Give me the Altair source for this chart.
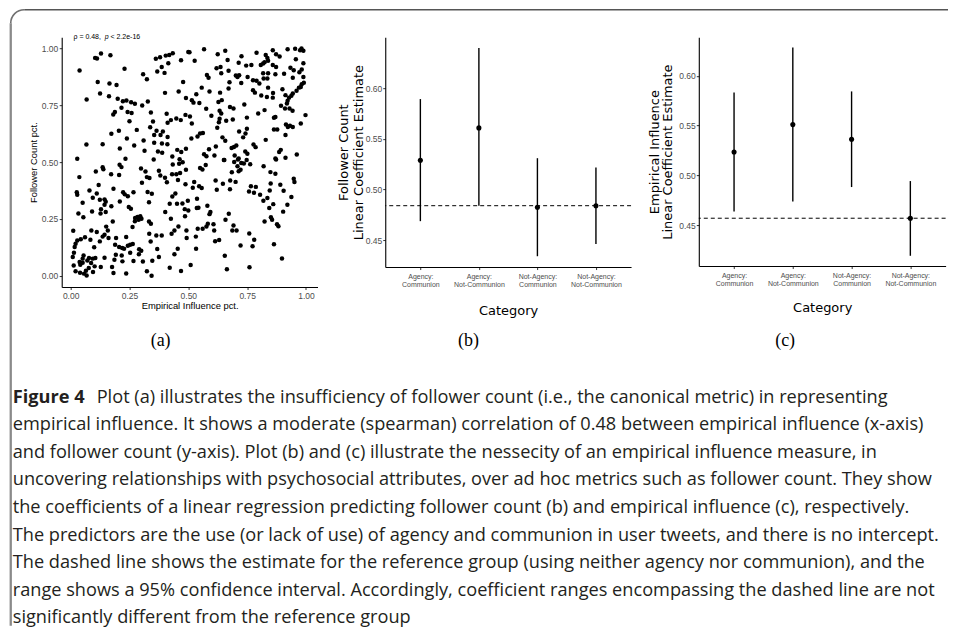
import altair as alt
import pandas as pd

# ---------------- data ----------------
# panel (a): (empirical influence pct., follower count pct.)
scatter_points = [
    (0.028,0.515),(0.038,0.903),(0.104,0.959),(0.112,0.956),(0.129,0.978),(0.169,0.971),(0.229,0.911),
    (0.115,0.853),(0.165,0.846),(0.195,0.840),(0.125,0.802),(0.068,0.776),(0.163,0.790),(0.200,0.779),
    (0.222,0.768),(0.237,0.771),(0.257,0.764),(0.273,0.757),(0.304,0.749),(0.328,0.767),(0.308,0.887),
    (0.324,0.865),(0.362,0.955),(0.380,0.962),(0.404,0.969),(0.419,0.972),(0.434,0.979),(0.415,0.935),
    (0.387,0.919),(0.368,0.899),(0.399,0.893),(0.469,0.949),(0.500,0.985),(0.478,0.853),(0.401,0.805),
    (0.459,0.811),(0.490,0.782),(0.216,0.739),(0.188,0.721),(0.181,0.710),(0.242,0.721),(0.259,0.716),
    (0.341,0.719),(0.408,0.713),(0.250,0.680),(0.350,0.679),(0.426,0.685),(0.412,0.673),(0.449,0.692),
    (0.468,0.685),(0.488,0.708),(0.281,0.642),(0.338,0.654),(0.205,0.638),(0.173,0.625),(0.365,0.638),
    (0.392,0.635),(0.382,0.619),(0.355,0.619),(0.412,0.611),(0.239,0.604),(0.310,0.595),(0.355,0.585),
    (0.388,0.582),(0.411,0.579),(0.067,0.578),(0.136,0.579),(0.270,0.573),(0.209,0.560),(0.314,0.550),
    (0.371,0.547),(0.389,0.541),(0.453,0.554),(0.470,0.545),(0.490,0.559),(0.233,0.515),(0.353,0.512),
    (0.432,0.525),(0.463,0.513),
    (0.505,0.984),(0.527,0.946),(0.567,0.997),(0.625,0.975),(0.657,0.990),(0.667,0.950),(0.726,0.966),
    (0.714,0.938),(0.746,0.925),(0.768,0.928),(0.790,0.982),(0.829,0.972),(0.836,0.959),(0.839,0.946),
    (0.824,0.940),(0.808,0.928),(0.818,0.934),(0.859,0.993),(0.873,0.975),(0.888,0.965),(0.859,0.928),
    (0.873,0.919),(0.922,0.997),(0.954,0.999),(0.981,1.000),(0.989,0.990),(0.975,0.993),(0.957,0.953),
    (0.989,0.935),(0.934,0.916),(0.948,0.905),(0.982,0.908),(0.972,0.896),(0.637,0.919),(0.620,0.913),
    (0.640,0.891),(0.671,0.902),(0.579,0.884),(0.586,0.872),(0.702,0.881),(0.716,0.883),(0.709,0.875),
    (0.752,0.875),(0.775,0.861),(0.675,0.852),(0.671,0.824),(0.725,0.848),(0.790,0.858),(0.802,0.846),
    (0.818,0.891),(0.839,0.891),(0.870,0.887),(0.820,0.868),(0.836,0.868),(0.907,0.889),(0.944,0.872),
    (0.989,0.875),(0.991,0.850),(0.982,0.843),(0.978,0.831),(0.970,0.828),(0.960,0.814),(0.944,0.802),
    (0.938,0.792),(0.928,0.784),(0.922,0.770),(0.919,0.758),(0.839,0.828),(0.900,0.821),(0.913,0.795),
    (0.860,0.804),(0.775,0.817),(0.783,0.806),(0.810,0.793),(0.834,0.787),(0.859,0.784),(0.557,0.828),
    (0.534,0.799),(0.590,0.811),(0.635,0.806),(0.515,0.773),(0.522,0.762),(0.547,0.760),(0.628,0.765),
    (0.642,0.773),(0.738,0.754),(0.576,0.735),(0.598,0.704),(0.633,0.726),(0.640,0.714),(0.677,0.743),
    (0.692,0.736),(0.507,0.701),(0.894,0.748),(0.911,0.736),(0.930,0.736),(0.943,0.726),(0.870,0.699),
    (0.864,0.695),(0.824,0.729),(0.797,0.714),(0.749,0.696),(0.633,0.691),(0.630,0.676),(0.661,0.682),
    (0.689,0.688),(0.515,0.670),(0.623,0.651),(0.915,0.666),(0.932,0.660),(0.944,0.655),(0.923,0.655),
    (0.978,0.670),(0.998,0.707),(0.864,0.644),(0.878,0.644),(0.716,0.635),(0.749,0.647),(0.743,0.626),
    (0.550,0.626),(0.562,0.628),(0.513,0.604),(0.539,0.613),(0.645,0.609),(0.733,0.609),(0.913,0.619),
    (0.829,0.598),(0.657,0.594),(0.777,0.578),(0.786,0.566),(0.588,0.557),(0.617,0.569),(0.704,0.573),
    (0.694,0.567),(0.684,0.562),(0.742,0.547),(0.751,0.537),(0.567,0.535),(0.577,0.526),(0.611,0.529),
    (0.697,0.529),(0.714,0.516),(0.893,0.554),(0.886,0.545),(0.961,0.534),(0.870,0.516),(0.913,0.519),
    (0.653,0.509),(0.748,0.509),
    (0.107,0.459),(0.136,0.477),(0.139,0.469),(0.172,0.447),(0.208,0.488),(0.216,0.478),(0.206,0.443),
    (0.299,0.472),(0.318,0.459),(0.324,0.434),(0.335,0.430),(0.303,0.409),(0.375,0.462),(0.381,0.441),
    (0.401,0.431),(0.409,0.411),(0.431,0.447),(0.449,0.447),(0.465,0.452),(0.434,0.490),(0.461,0.493),
    (0.476,0.499),(0.490,0.466),(0.456,0.421),(0.037,0.434),(0.119,0.399),(0.182,0.383),(0.026,0.367),
    (0.028,0.356),(0.080,0.375),(0.111,0.362),(0.094,0.343),(0.051,0.321),(0.124,0.334),(0.144,0.336),
    (0.149,0.326),(0.144,0.312),(0.173,0.306),(0.223,0.367),(0.230,0.358),(0.209,0.327),(0.243,0.350),
    (0.267,0.367),(0.327,0.368),(0.345,0.361),(0.333,0.323),(0.247,0.302),(0.256,0.295),(0.445,0.362),
    (0.432,0.349),(0.421,0.317),(0.452,0.317),(0.475,0.318),(0.498,0.330),(0.402,0.280),(0.485,0.293),
    (0.033,0.274),(0.054,0.257),(0.091,0.283),(0.129,0.293),(0.127,0.274),(0.149,0.280),(0.179,0.239),
    (0.274,0.254),(0.284,0.258),(0.296,0.262),(0.301,0.251),(0.273,0.240),(0.289,0.246),(0.333,0.239),
    (0.341,0.229),(0.263,0.214),(0.426,0.251),(0.458,0.217),(0.441,0.199),(0.492,0.199),(0.011,0.198),
    (0.088,0.199),(0.111,0.192),(0.151,0.216),(0.158,0.199),(0.144,0.180),(0.136,0.172),(0.193,0.166),
    (0.236,0.170),(0.334,0.185),(0.364,0.177),(0.387,0.177),(0.429,0.185),(0.493,0.166),(0.028,0.155),
    (0.043,0.160),(0.061,0.169),(0.021,0.141),(0.017,0.126),(0.084,0.158),(0.124,0.151),(0.161,0.166),
    (0.189,0.136),(0.206,0.126),(0.219,0.122),(0.243,0.132),(0.253,0.136),(0.264,0.139),(0.227,0.119),
    (0.291,0.116),(0.300,0.110),(0.340,0.150),(0.368,0.117),(0.100,0.125),(0.455,0.119),(0.014,0.101),
    (0.009,0.082),(0.055,0.089),(0.051,0.075),(0.038,0.060),(0.051,0.057),(0.071,0.067),(0.078,0.078),
    (0.094,0.075),(0.105,0.078),(0.087,0.056),(0.144,0.079),(0.192,0.092),(0.217,0.089),(0.253,0.101),
    (0.290,0.094),(0.375,0.082),(0.441,0.094),(0.013,0.045),(0.041,0.048),(0.128,0.038),(0.186,0.070),
    (0.220,0.063),(0.267,0.065),(0.307,0.062),(0.347,0.066),(0.021,0.019),(0.040,0.013),(0.057,0.009),
    (0.068,0.001),(0.065,0.022),(0.077,0.034),(0.102,0.041),(0.095,0.016),(0.176,0.038),(0.182,0.012),
    (0.236,0.010),(0.324,0.019),(0.344,0.000),(0.421,0.035),(0.469,0.021),
    (0.574,0.487),(0.550,0.474),(0.560,0.468),(0.651,0.509),(0.695,0.501),(0.711,0.512),(0.725,0.496),
    (0.736,0.494),(0.709,0.482),(0.763,0.491),(0.722,0.466),(0.714,0.460),(0.685,0.455),(0.820,0.482),
    (0.873,0.512),(0.849,0.456),(0.870,0.449),(0.948,0.427),(0.951,0.412),(0.488,0.403),(0.525,0.412),
    (0.519,0.387),(0.546,0.394),(0.557,0.386),(0.616,0.419),(0.621,0.378),(0.647,0.405),(0.678,0.419),
    (0.701,0.413),(0.677,0.381),(0.766,0.394),(0.787,0.391),(0.758,0.371),(0.779,0.365),(0.805,0.356),
    (0.850,0.406),(0.846,0.375),(0.891,0.400),(0.905,0.374),(0.836,0.342),(0.819,0.330),(0.861,0.315),
    (0.844,0.298),(0.938,0.346),(0.921,0.312),(0.903,0.282),(0.537,0.339),(0.536,0.298),(0.543,0.299),
    (0.500,0.287),(0.581,0.308),(0.594,0.280),(0.590,0.271),(0.672,0.273),(0.658,0.246),(0.486,0.262),
    (0.583,0.229),(0.577,0.217),(0.561,0.207),(0.540,0.207),(0.607,0.226),(0.610,0.199),(0.692,0.221),
    (0.687,0.199),(0.705,0.199),(0.851,0.257),(0.856,0.246),(0.824,0.239),(0.877,0.226),(0.883,0.218),
    (0.532,0.172),(0.614,0.152),(0.631,0.157),(0.759,0.186),(0.780,0.158),(0.722,0.133),(0.773,0.130),
    (0.864,0.138),(0.533,0.119),(0.655,0.088),(0.898,0.076),(0.510,0.047),(0.664,0.028),(0.760,0.037),
]
scatter_ticks = [0.0, 0.25, 0.5, 0.75, 1.0]
rho_text = ["\u03c1 = 0.48,", "p", "< 2.2e-16"]

# panels (b) and (c): linear-regression coefficients with 95% CI
categories = ["Agency: Communion", "Agency: Not-Communion",
              "Not-Agency: Communion", "Not-Agency: Not-Communion"]
fc_estimate = [0.529, 0.561, 0.4825, 0.484]
fc_lower = [0.4687, 0.484, 0.434, 0.446]
fc_upper = [0.5895, 0.640, 0.531, 0.5217]
fc_reference = 0.484
ei_estimate = [0.5235, 0.551, 0.5363, 0.457]
ei_lower = [0.4637, 0.4737, 0.4883, 0.4193]
ei_upper = [0.5833, 0.6283, 0.5843, 0.4943]
ei_reference = 0.457
coef_ticks = [0.45, 0.50, 0.55, 0.60]

panel_labels = ["(a)", "(b)", "(c)"]
caption_bold = "Figure 4"
caption_first = ("Plot (a) illustrates the insufficiency of follower count (i.e., the canonical metric) "
                 "in representing")
caption_rest = [
    "empirical influence. It shows a moderate (spearman) correlation of 0.48 between empirical influence (x-axis)",
    "and follower count (y-axis). Plot (b) and (c) illustrate the nessecity of an empirical influence measure, in",
    "uncovering relationships with psychosocial attributes, over ad hoc metrics such as follower count. They show",
    "the coefficients of a linear regression predicting follower count (b) and empirical influence (c), respectively.",
    "The predictors are the use (or lack of use) of agency and communion in user tweets, and there is no intercept.",
    "The dashed line shows the estimate for the reference group (using neither agency nor communion), and the",
    "range shows a 95% confidence interval. Accordingly, coefficient ranges encompassing the dashed line are not",
    "significantly different from the reference group",
]

# ---------------- styles ----------------
AX = dict(domainColor="black", domainWidth=1.1, tickColor="#333333", tickWidth=1,
          tickSize=2.5, labelColor="#4d4d4d", labelFont="Liberation Sans", grid=False,
          titleColor="black", titleFontWeight="normal")
CAP_FONT = "Open Sans"
CAP_SIZE = 18.2
CAP_COLOR = "#231f20"
one = pd.DataFrame({"k": [0]})

# ---------------- panel (a) ----------------
sdf = pd.DataFrame(scatter_points, columns=["influence", "followers"])
xs = alt.Scale(domain=[-0.038, 1.049], nice=False, zero=False)
ys = alt.Scale(domain=[-0.05, 1.05], nice=False, zero=False)
xa = alt.X("influence:Q", scale=xs,
           axis=alt.Axis(values=scatter_ticks, format=".2f", title="Empirical Influence pct.",
                         labelFontSize=8.5, labelPadding=1.5, titleFont="Liberation Sans",
                         titleFontSize=9.4, titlePadding=2, **AX))
ya = alt.Y("followers:Q", scale=ys,
           axis=alt.Axis(values=scatter_ticks, format=".2f", title="Follower Count pct.",
                         labelFontSize=8.5, labelPadding=1.5, titleFont="Liberation Sans",
                         titleFontSize=9.4, titlePadding=3, **AX))
scatter = alt.Chart(sdf).mark_circle(size=20, color="black", opacity=1).encode(x=xa, y=ya)

def rho_piece(txt, dx, italic=False):
    return alt.Chart(one).mark_text(text=txt, align="left", baseline="middle", dx=dx,
                                    font="Liberation Sans", fontSize=7, color="black",
                                    fontStyle="italic" if italic else "normal").encode(
        x=alt.datum(0.012), y=alt.datum(1.05))

rho = [rho_piece(rho_text[0], 0), rho_piece(rho_text[1], 31.3, True), rho_piece(rho_text[2], 37)]

# sub-figure labels and caption (positions relative to panel (a)'s plot area)
labels = [alt.Chart(one).mark_text(text=t, align="center", baseline="middle",
                                   font="Liberation Serif", fontSize=18, color="black").encode(
    x=alt.value(px), y=alt.value(303.7)) for t, px in zip(panel_labels, [99, 407, 724])]

cap_bold = alt.Chart(one).mark_text(text=caption_bold, align="left", baseline="middle",
                                    font=CAP_FONT, fontSize=CAP_SIZE, fontWeight="bold",
                                    color=CAP_COLOR).encode(x=alt.value(-49), y=alt.value(360.7))
cap_first = alt.Chart(one).mark_text(text=caption_first, align="left", baseline="middle",
                                     font=CAP_FONT, fontSize=CAP_SIZE,
                                     color=CAP_COLOR).encode(x=alt.value(35), y=alt.value(360.7))
cap_rest = alt.Chart(one).mark_text(text=caption_rest, align="left", baseline="top",
                                    lineHeight=27.6, font=CAP_FONT, fontSize=CAP_SIZE,
                                    color=CAP_COLOR).encode(x=alt.value(-49), y=alt.value(379.4))

# frame of the figure box
left_line = alt.Chart(one).mark_rule(color="#8a8a8a", strokeWidth=2.3).encode(
    x=alt.value(-51), y=alt.value(-14.05), y2=alt.value(589))
top_line = alt.Chart(one).mark_rule(color="#555555", strokeWidth=1.6).encode(
    x=alt.value(-37.5), x2=alt.value(887), y=alt.value(-27.55))
corner = alt.Chart(one).mark_arc(theta=4.7124, theta2=6.2832, radius=14.3, radius2=12.7,
                                 color="#707070").encode(x=alt.value(-37.5), y=alt.value(-14.05))

panel_a = alt.layer(scatter, *rho, *labels, cap_bold, cap_first, cap_rest,
                    left_line, top_line, corner).properties(width=256, height=250)

# ---------------- panels (b), (c) ----------------
def coef_panel(est, lo, hi, ref, ytitle, ydomain, w, h, ytpad, ylh, xtpad):
    df = pd.DataFrame({"category": categories, "estimate": est, "lower": lo, "upper": hi})
    xaxis = alt.Axis(title="Category", labelExpr="split(datum.value, ' ')", labelAngle=0,
                     labelFontSize=7, labelLineHeight=8.6, labelPadding=2.8,
                     titleFont="DejaVu Sans", titleFontSize=13, titlePadding=xtpad, **AX)
    xenc = alt.X("category:N", sort=categories,
                 scale=alt.Scale(type="point", padding=0.6), axis=xaxis)
    yaxis = alt.Axis(values=coef_ticks, format=".2f", title=ytitle, labelFontSize=8.5,
                     labelPadding=1, titleFont="DejaVu Sans", titleFontSize=13,
                     titleLineHeight=ylh, titlePadding=ytpad, **AX)
    ysc = alt.Scale(domain=ydomain, nice=False, zero=False)
    ref_rule = alt.Chart(pd.DataFrame({"ref": [ref]})).mark_rule(
        color="black", strokeWidth=1, strokeDash=[4, 3]).encode(
        y=alt.Y("ref:Q", scale=ysc, axis=yaxis))
    bars = alt.Chart(df).mark_rule(color="black", strokeWidth=1.4).encode(
        x=xenc, y=alt.Y("lower:Q", scale=ysc, axis=yaxis), y2="upper:Q")
    dots = alt.Chart(df).mark_circle(size=26, color="black", opacity=1).encode(
        x=xenc, y=alt.Y("estimate:Q", scale=ysc, axis=yaxis))
    return alt.layer(ref_rule, bars, dots).properties(width=w, height=h)

panel_b = coef_panel(fc_estimate, fc_lower, fc_upper, fc_reference,
                     ["Follower Count", "Linear Coefficient Estimate"], [0.4233, 0.6507],
                     246, 230, 0, 15, 16.7)
panel_c = coef_panel(ei_estimate, ei_lower, ei_upper, ei_reference,
                     ["Empirical Influence", "Linear Coefficient Estimate"], [0.409, 0.6387],
                     247, 229, 4, 13.5, 15)

chart = alt.hconcat(panel_a, panel_b, panel_c, spacing=67.8, bounds="flush").properties(
    padding={"left": 0.75, "top": 0, "right": 0, "bottom": 0}
).configure_view(stroke="transparent", strokeWidth=0)

chart.save("out.html", embed_options={"renderer": "svg", "actions": False})
